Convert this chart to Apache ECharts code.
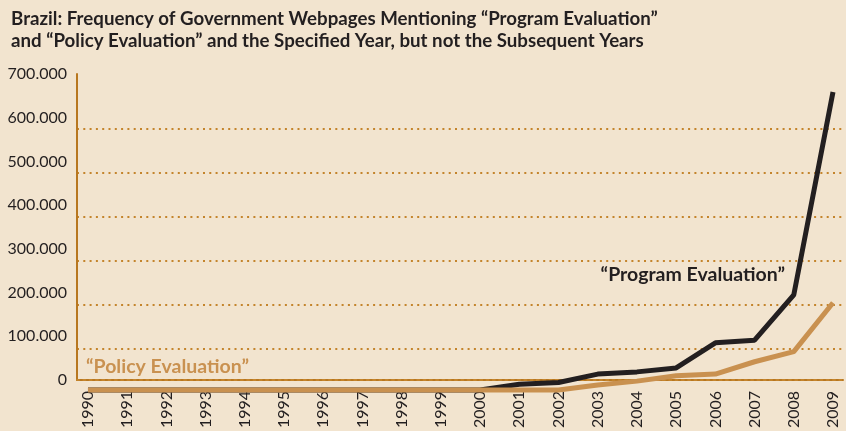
<!DOCTYPE html>
<html>
<head>
<meta charset="utf-8">
<script src="https://cdn.jsdelivr.net/npm/echarts@6/dist/echarts.min.js"></script>
<style>
  html, body { margin: 0; padding: 0; background: #f2e4cf; }
  #chart { width: 846px; height: 431px; }
</style>
</head>
<body>
<div id="chart"></div>
<script>
// years on the x axis
const years = [1990, 1991, 1992, 1993, 1994, 1995, 1996, 1997, 1998, 1999,
  2000, 2001, 2002, 2003, 2004, 2005, 2006, 2007, 2008, 2009];

// "Program Evaluation" webpages
const programEval = [7000, 7000, 7000, 7000, 7000, 7000, 7000, 7000, 7000, 7000,
  7000, 20000, 24000, 43000, 48000, 57000, 114000, 120000, 223000, 684000];

// "Policy Evaluation" webpages
const policyEval = [7000, 7000, 7000, 7000, 7000, 7000, 7000, 7000, 7000, 7000,
  7000, 7000, 7000, 18000, 27000, 39000, 43000, 71000, 94000, 205000];

const yTicks = [0, 100000, 200000, 300000, 400000, 500000, 600000, 700000];

const axisColor = "#b8771f";
const xMin = 1989.72, xMax = 2009.255;

const chart = echarts.init(document.getElementById("chart"));

const option = {
  backgroundColor: "#f2e4cf",
  animation: false,
  title: {
    text: "Brazil: Frequency of Government Webpages Mentioning \u201CProgram Evaluation\u201D\nand \u201CPolicy Evaluation\u201D and the Specified Year, but not the Subsequent Years",
    left: 6,
    top: 3,
    textStyle: {
      fontFamily: "Lato",
      fontSize: 18.7,
      fontWeight: "bold",
      color: "#231f20",
      lineHeight: 22,
    },
  },
  grid: [
    // frame, labels and axis lines
    { left: 77, right: 3, top: 74, bottom: 50 },
    // data + dotted grid lines
    { left: 77, right: 3, top: 129, bottom: 38 },
  ],
  xAxis: [
    {
      type: "value",
      gridIndex: 0,
      min: xMin,
      max: xMax,
      axisLine: { show: true, onZero: false, lineStyle: { color: axisColor, width: 2 } },
      axisTick: { show: false },
      splitLine: { show: false },
      axisLabel: {
        customValues: years,
        rotate: 90,
        margin: 11,
        color: "#231f20",
        fontFamily: "Lato",
        fontSize: 16,
        formatter: (v) => String(v),
      },
    },
    {
      type: "value",
      gridIndex: 1,
      min: xMin,
      max: xMax,
      show: false,
    },
    {
      type: "value",
      gridIndex: 0,
      position: "top",
      min: xMin,
      max: xMax,
      axisLine: { show: true, lineStyle: { color: "#c4842c", width: 2, type: [2, 4.3] } },
      axisTick: { show: false },
      axisLabel: { show: false },
      splitLine: { show: false },
    },
  ],
  yAxis: [
    {
      type: "value",
      gridIndex: 0,
      min: 0,
      max: 700000,
      interval: 100000,
      axisLine: { show: true, lineStyle: { color: axisColor, width: 2 } },
      axisTick: { show: false },
      splitLine: { show: false },
      axisLabel: {
        customValues: yTicks,
        margin: 10,
        color: "#231f20",
        fontFamily: "Lato",
        fontSize: 16,
        formatter: (v) => (v === 0 ? "0" : v / 1000 + ".000"),
      },
    },
    {
      type: "value",
      gridIndex: 1,
      min: 0,
      max: 600000,
      interval: 100000,
      axisLine: { show: false },
      axisTick: { show: false },
      axisLabel: { show: false },
      splitLine: {
        show: true,
        showMinLine: false,
        lineStyle: { color: "#c4842c", width: 2, type: [2, 4.3] },
      },
    },
  ],
  series: [
    {
      name: "Program Evaluation",
      type: "line",
      xAxisIndex: 1,
      yAxisIndex: 1,
      clip: false,
      symbol: "none",
      lineStyle: { color: "#231f20", width: 5 },
      data: years.map((y, i) => [y, programEval[i]]),
    },
    {
      name: "Policy Evaluation",
      type: "line",
      xAxisIndex: 1,
      yAxisIndex: 1,
      clip: false,
      symbol: "none",
      lineStyle: { color: "#c99150", width: 5 },
      data: years.map((y, i) => [y, policyEval[i]]),
    },
  ],
  graphic: [
    {
      type: "text",
      right: 61,
      top: 265,
      style: {
        text: "\u201CProgram Evaluation\u201D",
        fontFamily: "Lato",
        fontSize: 19.5,
        fontWeight: "bold",
        fill: "#231f20",
      },
    },
    {
      type: "text",
      left: 86,
      top: 357,
      style: {
        text: "\u201CPolicy Evaluation\u201D",
        fontFamily: "Lato",
        fontSize: 19.5,
        fontWeight: "bold",
        fill: "#c99150",
      },
    },
  ],
};

chart.setOption(option);
</script>
</body>
</html>
